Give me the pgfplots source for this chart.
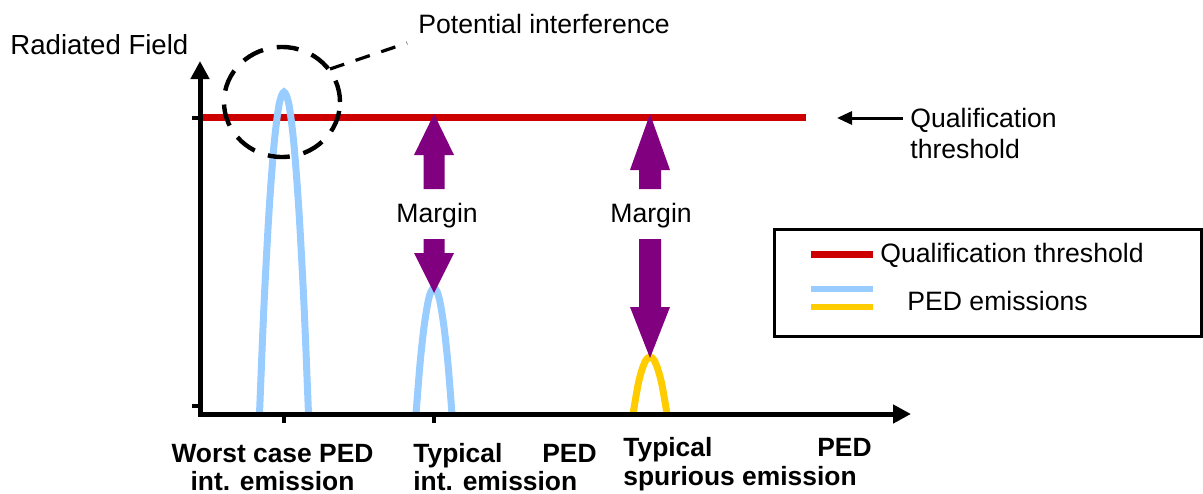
\documentclass[border=0pt]{standalone}
\usepackage{pgfplots}
\pgfplotsset{compat=1.18}
\usepackage{fontspec}
\setmainfont{Liberation Sans}
\usetikzlibrary{arrows.meta}
\definecolor{qred}{HTML}{CC0000}
\definecolor{pedblue}{HTML}{99CCFF}
\definecolor{pedyellow}{HTML}{FFCC00}
\definecolor{marginc}{HTML}{800080}

\tikzset{
  txt/.style={font=\fontsize{13.3}{16}\selectfont, inner sep=0pt},
  btxt/.style={font=\fontsize{13.2}{16}\selectfont\bfseries, inner sep=0pt},
}

\begin{document}
\begin{tikzpicture}
\begin{axis}[
  scale only axis, width=601.5pt, height=246.5pt,
  xmin=0, xmax=1203, ymin=0, ymax=493, y dir=reverse,
  hide axis, clip=false,
]
% qualification threshold
\addplot[qred, line width=3.5pt, mark=none] coordinates {(200,117) (806,117)};

% PED emissions
\addplot[pedblue, line width=3.5pt, mark=none, smooth] coordinates {
  (259.5,414) (264,305) (269,212) (274,145) (279,105) (284,92)
  (289,105) (294,145) (299,212) (304,305) (308.5,414)};
\addplot[pedblue, line width=3.5pt, mark=none, smooth] coordinates {
  (416,414) (420,364) (424,327) (428,302) (431,291.5) (434,288)
  (437,291.5) (440,302) (444,327) (448,364) (452,414)};
\addplot[pedyellow, line width=3.5pt, mark=none, smooth] coordinates {
  (633,414) (638,385) (642,369.6) (646,360) (650,357)
  (654,360) (658,369.6) (662,385) (667,414)};

% axes
\draw[line width=2.5pt, -{Triangle[width=9pt,length=9pt]}] (axis cs:200,416) -- (axis cs:200,61);
\draw[line width=2.5pt, -{Triangle[width=9pt,length=9pt]}] (axis cs:198,414) -- (axis cs:911,414);
\draw[line width=2pt] (axis cs:192,118) -- (axis cs:200,118);
\draw[line width=2pt] (axis cs:192,406) -- (axis cs:200,406);
\draw[line width=2pt] (axis cs:284,414) -- (axis cs:284,423);
\draw[line width=2pt] (axis cs:434,414) -- (axis cs:434,423);

% margin arrows
\fill[marginc] (axis cs:434,114) -- (axis cs:454,155) -- (axis cs:444.5,155) -- (axis cs:444.5,189)
  -- (axis cs:423.5,189) -- (axis cs:423.5,155) -- (axis cs:414,155) -- cycle;
\fill[marginc] (axis cs:423.5,239) -- (axis cs:444.5,239) -- (axis cs:444.5,253) -- (axis cs:454,253)
  -- (axis cs:434,293) -- (axis cs:414,253) -- (axis cs:423.5,253) -- cycle;
\fill[marginc] (axis cs:650,114) -- (axis cs:670,170) -- (axis cs:661,170) -- (axis cs:661,189)
  -- (axis cs:639,189) -- (axis cs:639,170) -- (axis cs:630,170) -- cycle;
\fill[marginc] (axis cs:639,239) -- (axis cs:661,239) -- (axis cs:661,307) -- (axis cs:670,307)
  -- (axis cs:650,358) -- (axis cs:630,307) -- (axis cs:639,307) -- cycle;
\node[txt, anchor=base west] at (axis cs:396,222) {Margin};
\node[txt, anchor=base west] at (axis cs:610,222) {Margin};

% potential interference
\draw[line width=2.2pt, dash pattern=on 11pt off 7pt] (axis cs:282,102) ellipse [x radius=29pt, y radius=27.5pt];
\draw[line width=1.6pt, dash pattern=on 7.5pt off 6pt] (axis cs:330,69) -- (axis cs:407,43);
\node[txt, anchor=base west] at (axis cs:418,33) {Potential interference};

% axis title
\node[txt, font=\fontsize{13.8}{16}\selectfont, anchor=base west] at (axis cs:10,54) {Radiated Field};

% threshold annotation
\draw[line width=1.5pt, -{Triangle[width=6.5pt,length=7.5pt]}] (axis cs:903,118) -- (axis cs:837,118);
\node[txt, anchor=base west] at (axis cs:910,127) {Qualification};
\node[txt, anchor=base west] at (axis cs:910,158) {threshold};

% legend
\draw[line width=1.5pt] (axis cs:774,229) rectangle (axis cs:1201,336);
\draw[qred, line width=3.5pt] (axis cs:811,254) -- (axis cs:873,254);
\draw[pedblue, line width=3pt] (axis cs:811,289) -- (axis cs:873,289);
\draw[pedyellow, line width=3pt] (axis cs:811,307) -- (axis cs:873,307);
\node[txt, anchor=base west] at (axis cs:880,262) {Qualification threshold};
\node[txt, anchor=base west] at (axis cs:907,310) {PED emissions};

% category labels
\node[btxt, anchor=base] at (axis cs:272.5,462) {Worst case PED};
\node[btxt, anchor=base] at (axis cs:272.5,490) {int. emission};
\node[btxt, anchor=base west] at (axis cs:413,462) {Typical};
\node[btxt, anchor=base east] at (axis cs:597,462) {PED};
\node[btxt, anchor=base west] at (axis cs:413,490) {int. emission};
\node[btxt, anchor=base west] at (axis cs:623,456) {Typical};
\node[btxt, anchor=base east] at (axis cs:872,456) {PED};
\node[btxt, anchor=base west] at (axis cs:623,485) {spurious emission};

\coordinate (bl) at (axis cs:0,493);
\coordinate (tr) at (axis cs:1203,0);
\end{axis}
\pgfresetboundingbox
\useasboundingbox (bl) rectangle (tr);
\end{tikzpicture}
\end{document}
